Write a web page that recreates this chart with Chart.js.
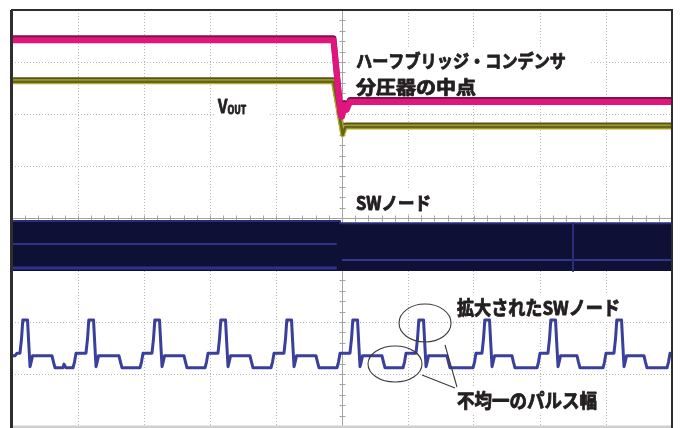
<!DOCTYPE html>
<html><head><meta charset="utf-8">
<script src="https://cdn.jsdelivr.net/npm/chart.js@4.4.1/dist/chart.umd.min.js"></script>
<style>html,body{margin:0;padding:0;background:#fff;overflow:hidden}canvas{display:block}</style>
</head><body>
<canvas id="c" width="681" height="428"></canvas>
<script>
// ---- data (x in horizontal divisions 0..10, y in vertical divisions -4..4) ----
const magentaX = [0, 4.87, 4.98, 5.00, 5.04, 5.07, 5.12, 10];
const magentaY = [3.42, 3.42, 1.98, 1.95, 2.17, 2.08, 2.23, 2.23];

const vOutX = [0, 4.87, 5.00, 5.01, 5.05, 10];
const vOutY = [2.62, 2.62, 1.69, 1.60, 1.75, 1.75];

const swBandX = [0, 4.97, 4.97, 10];
const swBandY = [-0.06, -0.06, -0.10, -0.10];
const swBandBottom = -1.02;
const swTraceLeftX = [0, 4.92];
const swTraceLeftY1 = [-0.50, -0.50];
const swTraceLeftY2 = [-0.96, -0.96];
const swTraceRightX = [5.0, 10];
const swTraceRightY = [-0.81, -0.81];
const swSpikeX = [8.5, 8.5];
const swSpikeY = [-0.10, -1.02];

const swZoomX = [
  0.000, 0.045, 0.076, 0.121, 0.145, 0.164, 0.235, 0.255, 0.273, 0.290, 0.311, 0.606, 0.629, 0.652, 0.773, 0.788, 0.818, 0.924, 0.947, 0.970,
  1.121, 1.145, 1.164, 1.235, 1.255, 1.273, 1.290, 1.311, 1.621, 1.644, 1.667, 1.939, 1.962, 1.985,
  2.121, 2.145, 2.164, 2.235, 2.255, 2.273, 2.290, 2.311, 2.606, 2.629, 2.652, 2.924, 2.947, 2.970,
  3.121, 3.145, 3.164, 3.235, 3.255, 3.273, 3.290, 3.311, 3.606, 3.629, 3.652, 3.924, 3.947, 3.970,
  4.121, 4.145, 4.164, 4.235, 4.255, 4.273, 4.290, 4.311, 4.606, 4.629, 4.652, 4.924, 4.947, 4.970,
  5.121, 5.145, 5.164, 5.235, 5.255, 5.273, 5.290, 5.311, 5.606, 5.629, 5.652, 5.924, 5.947, 5.970,
  6.121, 6.145, 6.164, 6.235, 6.255, 6.273, 6.290, 6.311, 6.591, 6.614, 6.636, 6.985, 7.008, 7.030,
  7.121, 7.145, 7.164, 7.235, 7.255, 7.273, 7.290, 7.311, 7.576, 7.598, 7.621, 7.955, 7.977, 8.000,
  8.121, 8.145, 8.164, 8.235, 8.255, 8.273, 8.290, 8.311, 8.561, 8.583, 8.606, 8.955, 8.977, 9.000,
  9.121, 9.145, 9.164, 9.235, 9.255, 9.273, 9.290, 9.311, 9.576, 9.598, 9.621, 9.924, 9.947, 9.970, 10.000
];
const swZoomY = [
  -2.65, -2.65, -2.60, -2.60, -2.31, -1.96, -1.96, -2.44, -2.86, -2.77, -2.65, -2.65, -2.77, -2.88, -2.88, -2.81, -2.88, -2.88, -2.77, -2.60,
  -2.60, -2.31, -1.96, -1.96, -2.44, -2.86, -2.77, -2.65, -2.65, -2.77, -2.88, -2.88, -2.77, -2.60,
  -2.60, -2.31, -1.96, -1.96, -2.44, -2.86, -2.77, -2.65, -2.65, -2.77, -2.88, -2.88, -2.77, -2.60,
  -2.60, -2.31, -1.96, -1.96, -2.44, -2.86, -2.77, -2.65, -2.65, -2.77, -2.88, -2.88, -2.77, -2.60,
  -2.60, -2.31, -1.96, -1.96, -2.44, -2.86, -2.77, -2.65, -2.65, -2.77, -2.88, -2.88, -2.77, -2.60,
  -2.60, -2.31, -1.96, -1.96, -2.44, -2.86, -2.77, -2.65, -2.65, -2.77, -2.88, -2.88, -2.77, -2.60,
  -2.60, -2.31, -1.96, -1.96, -2.44, -2.86, -2.77, -2.65, -2.65, -2.77, -2.88, -2.88, -2.77, -2.60,
  -2.60, -2.31, -1.96, -1.96, -2.44, -2.86, -2.77, -2.65, -2.65, -2.77, -2.88, -2.88, -2.77, -2.60,
  -2.60, -2.31, -1.96, -1.96, -2.44, -2.86, -2.77, -2.65, -2.65, -2.77, -2.88, -2.88, -2.77, -2.60,
  -2.60, -2.31, -1.96, -1.96, -2.44, -2.86, -2.77, -2.65, -2.65, -2.77, -2.88, -2.88, -2.77, -2.60, -2.65
];

// annotation texts
const labelTexts = ['ハーフブリッジ・コンデンサ', '分圧器の中点', 'SWノード', '拡大されたSWノード', '不均一のパルス幅'];

const pts = (xs, ys) => xs.map((x, i) => ({x, y: ys[i]}));
const FONT = '"Noto Sans CJK JP", "Noto Sans", sans-serif';

// annotation layout (in division coordinates)
const labels = [
  {t: labelTexts[0], x: 5.212, y: 3.019, size: 18, w: 210},
  {t: labelTexts[1], x: 5.212, y: 2.519, size: 18, w: 120},
  {t: labelTexts[2], x: 5.212, y: 0.288, size: 18, w: 75},
  {t: labelTexts[3], x: 6.742, y: -1.721, size: 19, w: 163},
  {t: labelTexts[4], x: 6.742, y: -3.519, size: 19, w: 140}
];
const whiteBoxes = [
  [5.12, 8.76, 3.29, 2.31],
  [3.076, 3.91, 2.365, 1.846],
  [5.12, 6.485, 0.538, 0.096],
  [6.667, 9.394, -1.481, -1.96],
  [6.636, 8.985, -3.269, -3.788]
];
const ellipses = [
  [5.864, 6.652, -1.654, -2.385],
  [5.394, 6.212, -2.462, -3.154]
];
const leaders = [
  [6.561, -2.442, 6.742, -3.25],
  [6.212, -3.019, 6.712, -3.269]
];

function heavyText(ctx, t, x, y, sx) {
  ctx.save();
  ctx.translate(x, y);
  ctx.scale(sx, 1);
  ctx.lineWidth = 0.9;
  ctx.lineJoin = 'round';
  ctx.strokeText(t, 0, 0);
  ctx.fillText(t, 0, 0);
  ctx.restore();
}

const scopePlugin = {
  id: 'scope',
  beforeDatasetsDraw(chart) {
    const {ctx, chartArea: a, scales: {x, y}} = chart;
    ctx.save();
    ctx.strokeStyle = '#a3a3a3';
    ctx.lineWidth = 1;
    const cx = Math.round(x.getPixelForValue(5)) + 0.5;
    const cy = Math.round(y.getPixelForValue(0)) + 0.5;
    ctx.beginPath();
    ctx.moveTo(cx, a.top); ctx.lineTo(cx, a.bottom);
    ctx.moveTo(a.left, cy); ctx.lineTo(a.right, cy);
    for (let v = -4; v <= 4.001; v += 0.2) {
      const py = Math.round(y.getPixelForValue(v)) + 0.5;
      ctx.moveTo(cx - 3, py); ctx.lineTo(cx + 3, py);
    }
    for (let v = 0; v <= 10.001; v += 0.2) {
      const px = Math.round(x.getPixelForValue(v)) + 0.5;
      ctx.moveTo(px, cy - 3); ctx.lineTo(px, cy + 3);
    }
    ctx.stroke();
    ctx.fillStyle = '#ffffff';
    whiteBoxes.forEach(([x1, x2, y1, y2]) => {
      const px1 = x.getPixelForValue(x1), px2 = x.getPixelForValue(x2);
      const py1 = y.getPixelForValue(y1), py2 = y.getPixelForValue(y2);
      ctx.fillRect(px1, py1, px2 - px1, py2 - py1);
    });
    ctx.restore();
  },
  afterDatasetsDraw(chart) {
    const {ctx, scales: {x, y}} = chart;
    ctx.save();
    ctx.strokeStyle = '#3a3a3a';
    ctx.lineWidth = 1.1;
    ellipses.forEach(([x1, x2, y1, y2]) => {
      const px1 = x.getPixelForValue(x1), px2 = x.getPixelForValue(x2);
      const py1 = y.getPixelForValue(y1), py2 = y.getPixelForValue(y2);
      ctx.beginPath();
      ctx.ellipse((px1 + px2) / 2, (py1 + py2) / 2, Math.abs(px2 - px1) / 2, Math.abs(py2 - py1) / 2, 0, 0, Math.PI * 2);
      ctx.stroke();
    });
    leaders.forEach(([x1, y1, x2, y2]) => {
      ctx.beginPath();
      ctx.moveTo(x.getPixelForValue(x1), y.getPixelForValue(y1));
      ctx.lineTo(x.getPixelForValue(x2), y.getPixelForValue(y2));
      ctx.stroke();
    });
    ctx.fillStyle = '#231f20';
    ctx.strokeStyle = '#231f20';
    ctx.textBaseline = 'middle';
    ctx.textAlign = 'left';
    labels.forEach(l => {
      ctx.font = `bold ${l.size}px ${FONT}`;
      const w = ctx.measureText(l.t).width;
      heavyText(ctx, l.t, x.getPixelForValue(l.x), y.getPixelForValue(l.y), l.w / w);
    });
    // V_OUT
    const vx = x.getPixelForValue(3.121), vy = y.getPixelForValue(2.154);
    ctx.font = `bold 19px ${FONT}`;
    heavyText(ctx, 'V', vx, vy, 0.8);
    const vw = ctx.measureText('V').width * 0.8;
    ctx.font = `bold 11px ${FONT}`;
    heavyText(ctx, 'OUT', vx + vw, vy + 4, 0.8);
    ctx.restore();
  },
  afterDraw(chart) {
    const {ctx, chartArea: a} = chart;
    ctx.save();
    ctx.strokeStyle = '#cfcfcf';
    ctx.lineWidth = 3;
    ctx.beginPath(); ctx.moveTo(a.left, a.bottom + 1); ctx.lineTo(a.right, a.bottom + 1); ctx.stroke();
    ctx.strokeStyle = '#2e2e2e';
    ctx.lineWidth = 2;
    ctx.beginPath();
    ctx.moveTo(a.left, a.bottom + 3); ctx.lineTo(a.left, a.top);
    ctx.lineTo(a.right, a.top); ctx.lineTo(a.right, a.bottom + 3);
    ctx.stroke();
    ctx.lineWidth = 3;
    ctx.beginPath(); ctx.moveTo(a.left - 0.5, a.top); ctx.lineTo(a.left - 0.5, a.bottom + 3); ctx.stroke();
    ctx.restore();
  }
};

const shadowPlugin = {
  id: 'edgeShadow',
  beforeDatasetDraw(chart, args) {
    const ds = chart.data.datasets[args.index];
    if (ds.edgeShadow) {
      const ctx = chart.ctx;
      ctx.save();
      ctx.shadowColor = ds.edgeShadow;
      ctx.shadowOffsetY = -2;
      ctx.shadowBlur = 0;
    }
  },
  afterDatasetDraw(chart, args) {
    const ds = chart.data.datasets[args.index];
    if (ds.edgeShadow) chart.ctx.restore();
  }
};

const line = (label, data, color, width, extra) => Object.assign({
  label, data, borderColor: color, borderWidth: width, pointRadius: 0,
  tension: 0, fill: false, borderJoinStyle: 'round', borderCapStyle: 'butt'
}, extra || {});

new Chart(document.getElementById('c'), {
  type: 'line',
  data: {
    datasets: [
      line('拡大されたSWノード', pts(swZoomX, swZoomY), '#3a3f9c', 3),
      line('ハーフブリッジ・コンデンサ分圧器の中点', pts(magentaX, magentaY), '#e2157e', 6, {edgeShadow: '#7d1446'}),
      line('VOUT core', pts(vOutX, vOutY), '#66631a', 2.5),
      line('VOUT', pts(vOutX, vOutY), '#b3ad2a', 5, {edgeShadow: '#55531a'}),
      line('SW spike', pts(swSpikeX, swSpikeY), '#2a2c76', 2),
      line('SW right', pts(swTraceRightX, swTraceRightY), '#34368a', 2),
      line('SW left 2', pts(swTraceLeftX, swTraceLeftY2), '#30328a', 3),
      line('SW left 1', pts(swTraceLeftX, swTraceLeftY1), '#30328a', 2),
      line('SWノード', pts(swBandX, swBandY), '#2a2c7a', 2, {fill: {value: swBandBottom}, backgroundColor: '#0f1036'})
    ]
  },
  options: {
    responsive: false,
    animation: false,
    layout: {padding: {left: 12, right: 9, top: 10, bottom: 2}},
    plugins: {legend: {display: false}, tooltip: {enabled: false}},
    scales: {
      x: {
        type: 'linear', min: 0, max: 10,
        ticks: {display: false, stepSize: 1},
        grid: {color: '#b9b9b9', lineWidth: 1, drawTicks: false},
        border: {display: false, dash: [1, 2]},
        afterFit(s) { s.height = 0; }
      },
      y: {
        type: 'linear', min: -4, max: 4,
        ticks: {display: false, stepSize: 1},
        grid: {color: '#b9b9b9', lineWidth: 1, drawTicks: false},
        border: {display: false, dash: [1, 2]},
        afterFit(s) { s.width = 0; }
      }
    }
  },
  plugins: [scopePlugin, shadowPlugin]
});
</script>
</body></html>
